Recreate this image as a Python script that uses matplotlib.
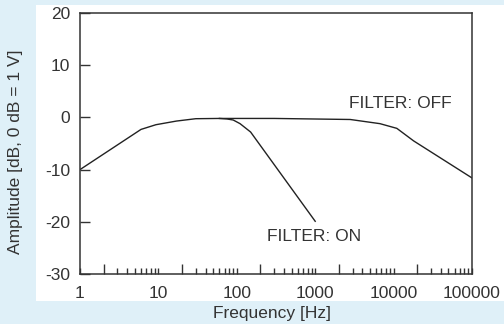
import matplotlib
matplotlib.use("Agg")
import matplotlib.pyplot as plt
from matplotlib.patches import Rectangle
from matplotlib.ticker import FixedLocator, FuncFormatter, NullFormatter

plt.rcParams['font.family'] = ['Liberation Sans', 'DejaVu Sans']

# response with filter off
freq_off = [1, 6, 9.3, 17, 30, 60, 300, 2800, 6700, 11000, 18000, 100000]
amp_off = [-10, -2.3, -1.4, -0.7, -0.25, -0.2, -0.2, -0.4, -1.2, -2.1, -4.5, -11.6]

# response with filter on (branches off the main curve)
freq_on = [60, 75, 90, 110, 150, 1000]
amp_on = [-0.2, -0.3, -0.5, -1.2, -2.8, -19.9]

x_labels = [1, 10, 100, 1000, 10000, 100000]
y_ticks = [-30, -20, -10, 0, 10, 20]

bg = '#dff0f8'
ink = '#222222'
txt = '#333333'
fs = 12.5

fig = plt.figure(figsize=(5.04, 3.24), dpi=100)
fig.patch.set_facecolor(bg)
# white panel behind the plot
fig.patches.append(Rectangle((36 / 504, 1 - 300.7 / 324), 1, (300.7 - 5) / 324,
                             transform=fig.transFigure, facecolor='white',
                             edgecolor='none', zorder=-5))

ax = fig.add_axes([80 / 504, 1 - 274 / 324, 392 / 504, 261 / 324])
ax.set_facecolor('white')

ax.plot(freq_off, amp_off, color=ink, lw=1.0)
ax.plot(freq_on, amp_on, color=ink, lw=1.0)

ax.set_xscale('log')
ax.set_xlim(1, 100000)
ax.set_ylim(-30, 20)

# major ticks at 2x10^n (long), minor at 1,3..9 x10^n (short), labels on decades
majors = [2 * 10 ** k for k in range(5)]
minors = [m * 10 ** k for k in range(6) for m in [1, 3, 4, 5, 6, 7, 8, 9] if m * 10 ** k <= 100000]
ax.xaxis.set_major_locator(FixedLocator(majors))
ax.xaxis.set_major_formatter(NullFormatter())
ax.xaxis.set_minor_locator(FixedLocator(minors))
ax.xaxis.set_minor_formatter(FuncFormatter(lambda v, p: str(int(round(v))) if int(round(v)) in x_labels else ''))

ax.set_yticks(y_ticks)
ax.set_yticklabels([str(v) for v in y_ticks])

ax.tick_params(axis='x', which='major', direction='in', length=7, width=1, color=txt)
ax.tick_params(axis='x', which='minor', direction='in', length=4, width=1, color=txt,
               pad=8.5, labelsize=fs, labelcolor=txt)
ax.tick_params(axis='y', direction='in', length=7, width=1, color=txt,
               pad=7, labelsize=fs, labelcolor=txt)

for s in ax.spines.values():
    s.set_color(txt)
    s.set_linewidth(1.1)

ax.set_xlabel('Frequency [Hz]', fontsize=fs, color=txt)
ax.xaxis.set_label_coords(0.49, -0.123)
ax.set_ylabel('Amplitude [dB, 0 dB = 1 V]', fontsize=fs, color=txt)
ax.yaxis.set_label_coords(-0.145, 0.467)

ax.text(2700, 2.6, 'FILTER: OFF', fontsize=fs, color=txt, va='center', ha='left')
ax.text(243, -22.9, 'FILTER: ON', fontsize=fs, color=txt, va='center', ha='left')

fig.savefig('out.png', dpi=100, facecolor=bg)
